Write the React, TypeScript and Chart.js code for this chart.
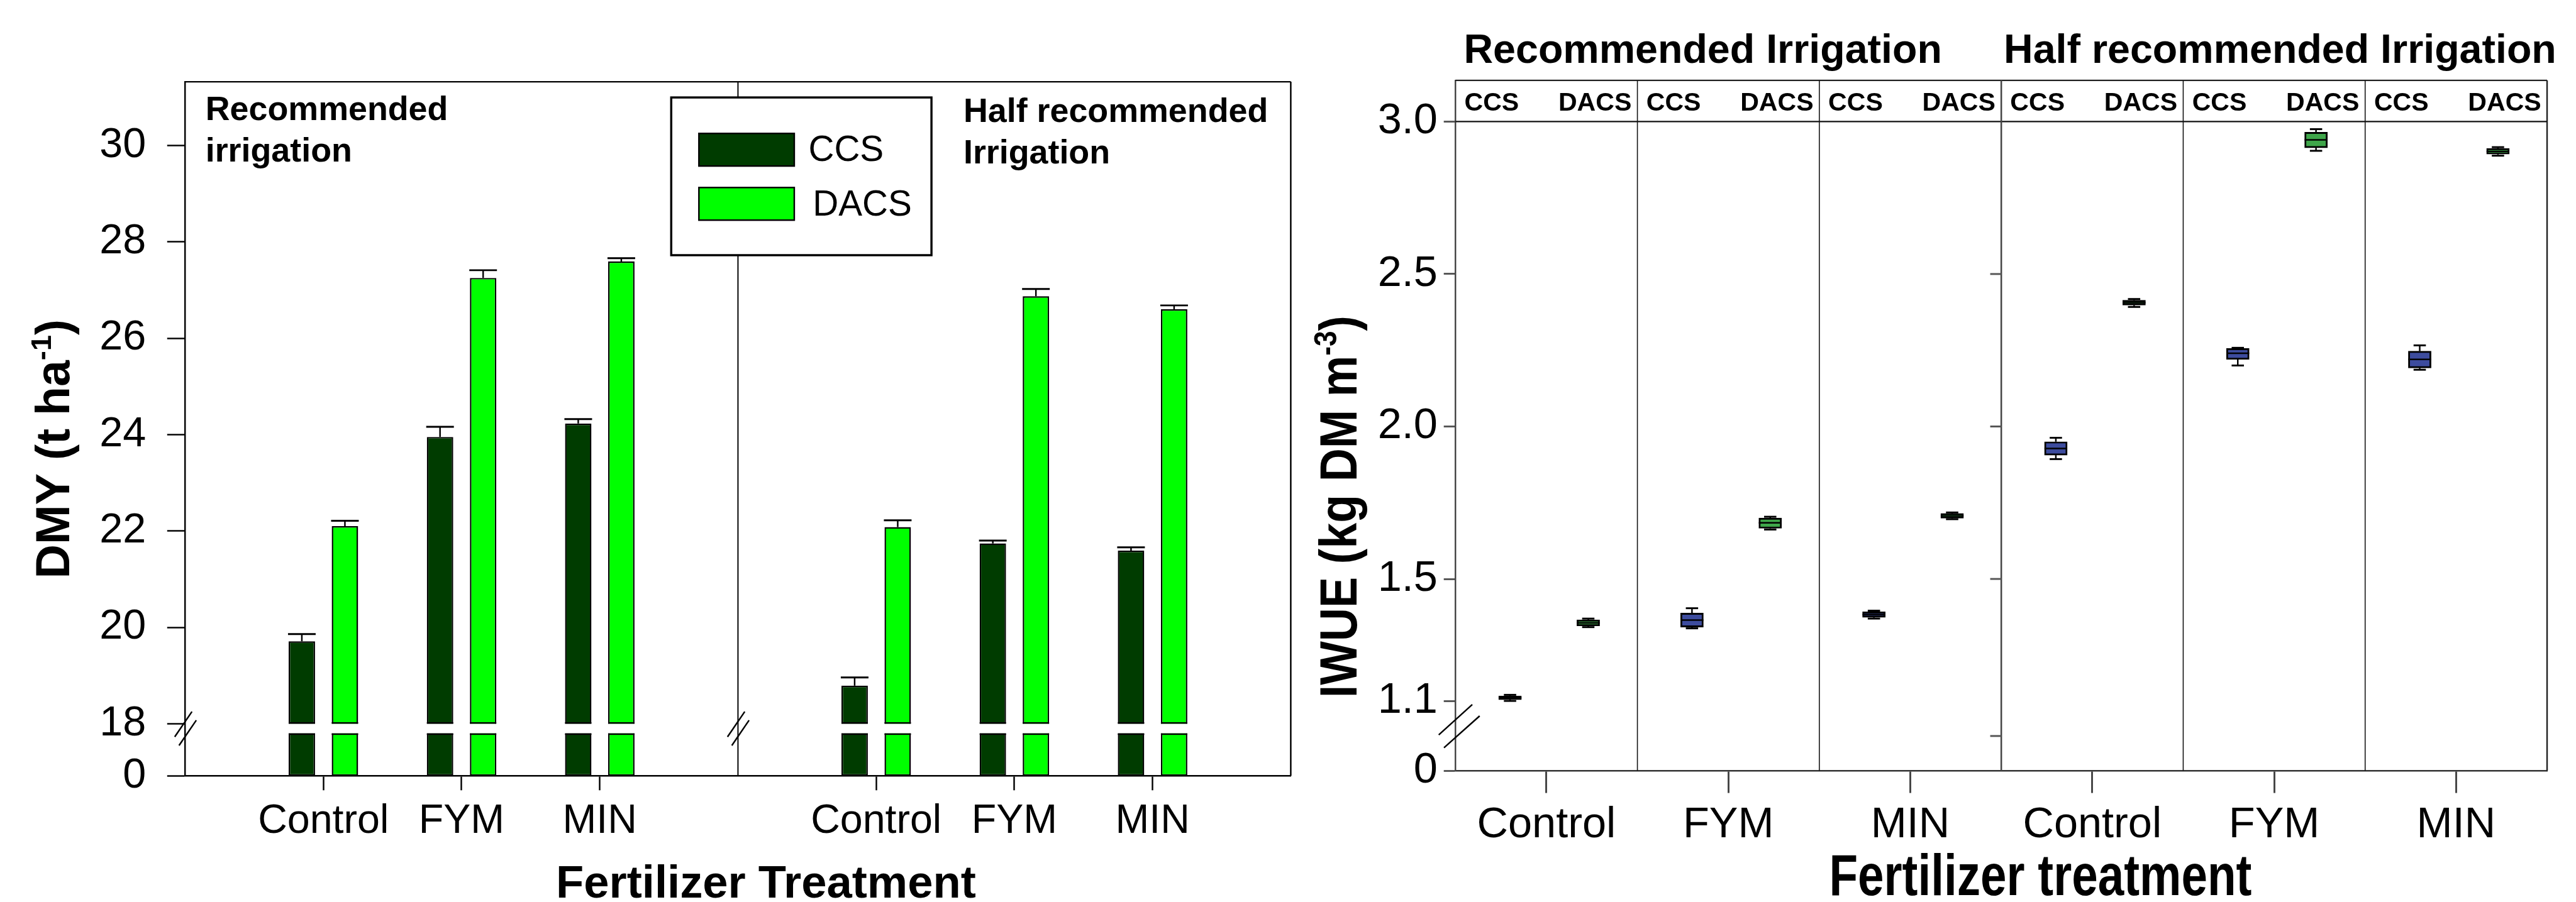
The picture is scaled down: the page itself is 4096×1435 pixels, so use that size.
import React, { useEffect, useRef } from 'react';
import { Chart, registerables } from 'chart.js';

Chart.register(...registerables);

const S = 4096 / 4187;
const W = 4096;
const H = 1435;
const SANS = "'Liberation Sans', Arial, Helvetica, sans-serif";
const px = (v: number) => v * S;

// ---------------- Left chart: DMY (t ha-1) ----------------
const dmyLabels = ['', 'Control', 'FYM', 'MIN', '', 'Control', 'FYM', 'MIN', ''];
const dmyCCS = [null, 19.71, 23.95, 24.23, null, 18.79, 21.74, 21.59, null];
const dmyCCSErr = [null, 0.15, 0.21, 0.09, null, 0.17, 0.06, 0.07, null];
const dmyDACS = [null, 22.1, 27.25, 27.59, null, 22.08, 26.87, 26.6, null];
const dmyDACSErr = [null, 0.11, 0.16, 0.07, null, 0.14, 0.15, 0.08, null];
const dmyTickValues = [18, 20, 22, 24, 26, 28, 30];
const dmyAxisZero = 16.92; // where the "0" label sits below the axis break
const dmyAxisTop = 31.32;
const dmyBreak = [17.8, 18];
const dmyPanelTitles = [
  ['Recommended', 'irrigation'],
  ['Half recommended', 'Irrigation'],
];
const dmySeries = ['CCS', 'DACS'];
const dmyColors = ['#003c00', '#00ff00'];

// ---------------- Right chart: IWUE (kg DM m-3) ----------------
const iwueCategories = ['Control', 'FYM', 'MIN', 'Control', 'FYM', 'MIN'];
// [lower whisker, Q1, median, Q3, upper whisker]
const iwueCCS = [
  [1.1, 1.104, 1.11, 1.116, 1.12],
  [1.338, 1.342, 1.365, 1.388, 1.404],
  [1.37, 1.374, 1.383, 1.392, 1.396],
  [1.893, 1.906, 1.928, 1.95, 1.963],
  [2.2, 2.22, 2.24, 2.256, 2.258],
  [2.186, 2.192, 2.22, 2.247, 2.266],
];
const iwueDACS = [
  [1.342, 1.346, 1.356, 1.366, 1.37],
  [1.662, 1.666, 1.684, 1.7, 1.704],
  [1.696, 1.699, 1.707, 1.715, 1.718],
  [2.392, 2.398, 2.406, 2.414, 2.418],
  [2.904, 2.914, 2.94, 2.965, 2.975],
  [2.888, 2.893, 2.902, 2.912, 2.916],
];
const iwueTickValues = [1.1, 1.5, 2.0, 2.5, 3.0];
const iwueAxisZero = 0.8707;
const iwueAxisTop = 3.135;
const iwueHeaderValue = 3.0;
const iwueHalfAxisStubs = [2.5, 2.0, 1.5, 0.985];
const iwueGroupTitles = ['Recommended Irrigation', 'Half recommended Irrigation'];
const iwueSeries = ['CCS', 'DACS'];
const iwueColors = ['#3d4c9e', '#3fa64a'];
const iwueOffsets = [-0.2, 0.23];

const Y_AXIS_W = 200;
const X_AXIS_H = 150;

function drawText(
  ctx: CanvasRenderingContext2D,
  str: string,
  x: number,
  y: number,
  size: number,
  opts: { bold?: boolean; align?: CanvasTextAlign; width?: number; color?: string } = {}
) {
  ctx.save();
  ctx.font = `${opts.bold ? 'bold ' : ''}${px(size)}px ${SANS}`;
  ctx.fillStyle = opts.color || '#000';
  ctx.textAlign = opts.align || 'left';
  ctx.textBaseline = 'alphabetic';
  if (opts.width) {
    const w = ctx.measureText(str).width;
    const k = px(opts.width) / w;
    ctx.translate(x, y);
    ctx.scale(k, 1);
    ctx.fillText(str, 0, 0);
  } else {
    ctx.fillText(str, x, y);
  }
  ctx.restore();
}

function drawRotatedTitle(
  ctx: CanvasRenderingContext2D,
  parts: { t: string; sup?: boolean }[],
  baseX: number,
  centerY: number,
  size: number,
  targetLen?: number
) {
  ctx.save();
  ctx.translate(px(baseX), px(centerY));
  ctx.rotate(-Math.PI / 2);
  const mainFont = `bold ${px(size)}px ${SANS}`;
  const supFont = `bold ${px(size * 0.6)}px ${SANS}`;
  const widths = parts.map((p) => {
    ctx.font = p.sup ? supFont : mainFont;
    return ctx.measureText(p.t).width;
  });
  const total = widths.reduce((a, b) => a + b, 0);
  const k = targetLen ? px(targetLen) / total : 1;
  ctx.scale(k, 1);
  ctx.fillStyle = '#000';
  ctx.textBaseline = 'alphabetic';
  ctx.textAlign = 'left';
  let xx = -total / 2;
  parts.forEach((p, i) => {
    ctx.font = p.sup ? supFont : mainFont;
    ctx.fillText(p.t, xx, p.sup ? -px(size * 0.38) : 0);
    xx += widths[i];
  });
  ctx.restore();
}

function seg(ctx: CanvasRenderingContext2D, x1: number, y1: number, x2: number, y2: number) {
  ctx.beginPath();
  ctx.moveTo(x1, y1);
  ctx.lineTo(x2, y2);
  ctx.stroke();
}

function breakMarks(ctx: CanvasRenderingContext2D, cx: number, cy: number, lines: number[][]) {
  ctx.save();
  ctx.strokeStyle = '#000';
  ctx.lineWidth = px(2.5);
  lines.forEach(([a, b, c, d]) => seg(ctx, cx + px(a), cy + px(b), cx + px(c), cy + px(d)));
  ctx.restore();
}

const dmyPlugin = {
  id: 'dmyDecor',
  afterDatasetsDraw(chart: any) {
    const { ctx, scales } = chart;
    const y = scales.y;
    const yHi = y.getPixelForValue(dmyBreak[1]);
    const yLo = y.getPixelForValue(dmyBreak[0]);
    const bw = px(2.5);
    chart.data.datasets.forEach((ds: any, di: number) => {
      const meta = chart.getDatasetMeta(di);
      const vals = di === 0 ? dmyCCS : dmyDACS;
      const errs = di === 0 ? dmyCCSErr : dmyDACSErr;
      meta.data.forEach((bar: any, i: number) => {
        const v = vals[i];
        if (v == null) return;
        const { x: bx, width } = bar.getProps(['x', 'width'], true);
        const l = bx - width / 2;
        ctx.save();
        ctx.fillStyle = '#fff';
        ctx.fillRect(l - 2, yHi, width + 4, yLo - yHi);
        ctx.fillStyle = '#000';
        ctx.fillRect(l, yHi - bw, width, bw);
        ctx.fillRect(l, yLo, width, bw);
        const yTop = y.getPixelForValue(v);
        const yErr = y.getPixelForValue(v + (errs[i] as number));
        ctx.strokeStyle = '#000';
        ctx.lineWidth = px(2.5);
        seg(ctx, bx, yTop, bx, yErr);
        ctx.lineWidth = px(3);
        seg(ctx, l - 1, yErr, l + width + 1, yErr);
        ctx.restore();
      });
    });
  },
  afterDraw(chart: any) {
    const { ctx, chartArea: a, scales } = chart;
    const x = scales.x;
    const y = scales.y;
    ctx.save();
    ctx.strokeStyle = '#000';
    ctx.lineWidth = px(2.5);
    seg(ctx, a.left, a.top, a.right, a.top);
    seg(ctx, a.right, a.top, a.right, a.bottom);
    // divider between the two irrigation panels
    const xd = x.getPixelForValue(4);
    ctx.lineWidth = px(2);
    seg(ctx, xd, a.top, xd, a.bottom);
    // break marks
    const cy = (y.getPixelForValue(dmyBreak[0]) + y.getPixelForValue(dmyBreak[1])) / 2;
    const marks = [
      [-17, 13.5, 11, -27.5],
      [-10, 27.5, 18, -13.5],
    ];
    breakMarks(ctx, a.left, cy, marks);
    breakMarks(ctx, xd, cy, marks);
    ctx.restore();

    // panel titles
    drawText(ctx, dmyPanelTitles[0][0], px(334), px(195), 55, { bold: true });
    drawText(ctx, dmyPanelTitles[0][1], px(334), px(262.5), 55, { bold: true });
    drawText(ctx, dmyPanelTitles[1][0], px(1566), px(198.7), 55, { bold: true });
    drawText(ctx, dmyPanelTitles[1][1], px(1566), px(265.6), 55, { bold: true });

    // legend
    ctx.save();
    ctx.fillStyle = '#fff';
    ctx.fillRect(px(1091), px(158.5), px(423), px(256.5));
    ctx.strokeStyle = '#000';
    ctx.lineWidth = px(3.5);
    ctx.strokeRect(px(1091), px(158.5), px(423), px(256.5));
    const swTop = [217, 305];
    const txtX = [1314, 1321];
    const txtBase = [262, 351];
    chart.data.datasets.forEach((ds: any, i: number) => {
      ctx.fillStyle = ds.backgroundColor;
      ctx.fillRect(px(1136), px(swTop[i]), px(155), px(53));
      ctx.lineWidth = px(2.5);
      ctx.strokeStyle = '#000';
      ctx.strokeRect(px(1136), px(swTop[i]), px(155), px(53));
      drawText(ctx, ds.label, px(txtX[i]), px(txtBase[i]), 58);
    });
    ctx.restore();

    // axis titles
    drawRotatedTitle(ctx, [{ t: 'DMY (t ha' }, { t: '-1', sup: true }, { t: ')' }], 112, 730, 77);
    drawText(ctx, 'Fertilizer Treatment', px(1245), px(1460), 74, { bold: true, align: 'center' });
  },
};

const iwuePlugin = {
  id: 'iwueDecor',
  afterDatasetsDraw(chart: any) {
    const { ctx, scales } = chart;
    const y = scales.y;
    chart.data.datasets.forEach((ds: any, di: number) => {
      const meta = chart.getDatasetMeta(di);
      const boxes = di === 0 ? iwueCCS : iwueDACS;
      meta.data.forEach((bar: any, i: number) => {
        const b = boxes[i];
        const { x: bx, width } = bar.getProps(['x', 'width'], true);
        const capW = px(20);
        ctx.save();
        ctx.strokeStyle = '#000';
        ctx.lineWidth = px(2.5);
        // whiskers
        seg(ctx, bx, y.getPixelForValue(b[3]), bx, y.getPixelForValue(b[4]));
        seg(ctx, bx, y.getPixelForValue(b[1]), bx, y.getPixelForValue(b[0]));
        ctx.lineWidth = px(3);
        seg(ctx, bx - capW / 2, y.getPixelForValue(b[4]), bx + capW / 2, y.getPixelForValue(b[4]));
        seg(ctx, bx - capW / 2, y.getPixelForValue(b[0]), bx + capW / 2, y.getPixelForValue(b[0]));
        // median
        ctx.lineWidth = px(2.5);
        seg(ctx, bx - width / 2, y.getPixelForValue(b[2]), bx + width / 2, y.getPixelForValue(b[2]));
        ctx.restore();
      });
    });
  },
  afterDraw(chart: any) {
    const { ctx, chartArea: a, scales } = chart;
    const x = scales.x;
    const y = scales.y;
    ctx.save();
    ctx.strokeStyle = '#222';
    ctx.lineWidth = px(2.5);
    seg(ctx, a.left, a.top, a.right, a.top);
    seg(ctx, a.right, a.top, a.right, a.bottom);
    const yh = y.getPixelForValue(iwueHeaderValue);
    ctx.lineWidth = px(2.2);
    ctx.strokeStyle = '#111';
    seg(ctx, a.left, yh, a.right, yh);
    for (let i = 1; i < iwueCategories.length; i++) {
      const xx = x.getPixelForValue(i);
      const mid = i === iwueCategories.length / 2;
      ctx.lineWidth = mid ? px(2.6) : px(1.6);
      ctx.strokeStyle = mid ? '#444' : '#111';
      seg(ctx, xx, a.top, xx, a.bottom);
    }
    // tick stubs of the second (half irrigation) panel axis
    const xm = x.getPixelForValue(iwueCategories.length / 2);
    ctx.strokeStyle = '#555';
    ctx.lineWidth = px(3);
    iwueHalfAxisStubs.forEach((v) => {
      const yy = y.getPixelForValue(v);
      seg(ctx, xm - px(18), yy, xm, yy);
    });
    // break marks on the y axis
    const y11 = y.getPixelForValue(iwueTickValues[0]);
    const y0 = y.getPixelForValue(iwueAxisZero);
    const cy = y11 + 0.36 * (y0 - y11);
    breakMarks(ctx, a.left, cy, [
      [-27.2, 14.3, 27.3, -35],
      [-18.7, 35.3, 39.3, -16.5],
    ]);
    ctx.restore();

    // header labels CCS / DACS in each panel
    for (let i = 0; i < iwueCategories.length; i++) {
      const l = x.getPixelForValue(i);
      const r = x.getPixelForValue(i + 1);
      drawText(ctx, chart.data.datasets[0].label, l + px(14.5), px(180), 42, { bold: true });
      drawText(ctx, chart.data.datasets[1].label, r - px(9.5), px(180), 42, { bold: true, align: 'right' });
    }
    // group titles
    drawText(ctx, iwueGroupTitles[0], a.left + px(13.5), px(102), 66, { bold: true });
    drawText(ctx, iwueGroupTitles[1], xm + px(4), px(102), 66, { bold: true });

    // axis titles
    drawRotatedTitle(ctx, [{ t: 'IWUE (kg DM m' }, { t: '-3', sup: true }, { t: ')' }], 2205, 824, 86, 622);
    drawText(ctx, 'Fertilizer treatment', px(2973), px(1456), 94, { bold: true, width: 687 });
  },
};

function dmyConfig(): any {
  const font = { family: SANS, size: px(68) };
  return {
    type: 'bar',
    data: {
      labels: dmyLabels,
      datasets: dmySeries.map((name, di) => ({
        label: name,
        data: (di === 0 ? dmyCCS : dmyDACS).map((v) => (v == null ? null : [dmyAxisZero, v])),
        backgroundColor: dmyColors[di],
        borderColor: '#000',
        borderWidth: px(2.5),
        borderSkipped: false,
        categoryPercentage: 0.6235,
        barPercentage: 0.613,
      })),
    },
    options: {
      responsive: false,
      maintainAspectRatio: false,
      animation: false,
      devicePixelRatio: 1,
      layout: {
        autoPadding: false,
        padding: {
          left: px(301) - Y_AXIS_W,
          top: px(133),
          right: W - px(2098),
          bottom: H - px(1261.6) - X_AXIS_H,
        },
      },
      plugins: { legend: { display: false }, tooltip: { enabled: false }, title: { display: false } },
      scales: {
        x: {
          type: 'category',
          offset: false,
          grid: {
            display: true,
            offset: false,
            drawOnChartArea: false,
            drawTicks: true,
            tickLength: px(23.6),
            tickWidth: px(2.5),
            tickColor: (c: any) => (dmyLabels[c.index] ? '#000' : 'rgba(0,0,0,0)'),
          },
          border: { display: true, color: '#000', width: px(2.5) },
          ticks: {
            autoSkip: false,
            maxRotation: 0,
            minRotation: 0,
            font: { family: SANS, size: px(66) },
            color: '#000',
            padding: 11.6,
          },
          afterFit: (s: any) => {
            s.height = X_AXIS_H;
          },
        },
        y: {
          type: 'linear',
          min: dmyAxisZero,
          max: dmyAxisTop,
          beginAtZero: false,
          afterBuildTicks: (s: any) => {
            s.ticks = [dmyAxisZero, ...dmyTickValues].map((value) => ({ value }));
          },
          ticks: {
            callback: (v: number) => (v === dmyAxisZero ? '0' : String(v)),
            font,
            color: '#000',
            padding: px(34.2),
          },
          grid: {
            display: true,
            drawOnChartArea: false,
            drawTicks: true,
            tickLength: px(29.3),
            tickWidth: px(2.5),
            tickColor: '#000',
          },
          border: { display: true, color: '#000', width: px(2.5) },
          afterFit: (s: any) => {
            s.width = Y_AXIS_W;
          },
        },
      },
    },
    plugins: [dmyPlugin],
  };
}

function iwueConfig(): any {
  const font = { family: SANS, size: px(70) };
  return {
    type: 'bar',
    data: {
      datasets: iwueSeries.map((name, di) => ({
        label: name,
        data: (di === 0 ? iwueCCS : iwueDACS).map((b, i) => ({ x: i + 0.5 + iwueOffsets[di], y: [b[1], b[3]] })),
        backgroundColor: iwueColors[di],
        borderColor: '#000',
        borderWidth: px(3),
        borderSkipped: false,
        grouped: false,
        barThickness: px(37),
      })),
    },
    options: {
      responsive: false,
      maintainAspectRatio: false,
      animation: false,
      devicePixelRatio: 1,
      layout: {
        autoPadding: false,
        padding: {
          left: px(2365.7) - Y_AXIS_W,
          top: px(130.7),
          right: W - px(4140),
          bottom: H - px(1253.6) - X_AXIS_H,
        },
      },
      plugins: { legend: { display: false }, tooltip: { enabled: false }, title: { display: false } },
      scales: {
        x: {
          type: 'linear',
          min: 0,
          max: iwueCategories.length,
          offset: false,
          afterBuildTicks: (s: any) => {
            s.ticks = iwueCategories.map((_, i) => ({ value: i + 0.5 }));
          },
          grid: {
            display: true,
            offset: false,
            drawOnChartArea: false,
            drawTicks: true,
            tickLength: px(36),
            tickWidth: px(3),
            tickColor: '#444',
          },
          border: { display: true, color: '#333', width: px(2.5) },
          ticks: {
            autoSkip: false,
            maxRotation: 0,
            minRotation: 0,
            callback: (v: number) => iwueCategories[Math.round(v - 0.5)],
            font,
            color: '#000',
            padding: 10.2,
          },
          afterFit: (s: any) => {
            s.height = X_AXIS_H;
          },
        },
        y: {
          type: 'linear',
          min: iwueAxisZero,
          max: iwueAxisTop,
          beginAtZero: false,
          afterBuildTicks: (s: any) => {
            s.ticks = [iwueAxisZero, ...iwueTickValues].map((value) => ({ value }));
          },
          ticks: {
            callback: (v: number) => (v === iwueAxisZero ? '0' : v.toFixed(1)),
            font,
            color: '#000',
            padding: px(10),
          },
          grid: {
            display: true,
            drawOnChartArea: false,
            drawTicks: true,
            tickLength: px(19),
            tickWidth: px(3),
            tickColor: '#555',
          },
          border: { display: true, color: '#444', width: px(2.5) },
          afterFit: (s: any) => {
            s.width = Y_AXIS_W;
          },
        },
      },
    },
    plugins: [iwuePlugin],
  };
}

export default function App() {
  const leftRef = useRef<HTMLCanvasElement>(null);
  const rightRef = useRef<HTMLCanvasElement>(null);
  useEffect(() => {
    document.body.style.margin = '0';
    Chart.defaults.font.family = SANS;
    Chart.defaults.color = '#000';
    const c1 = new Chart(leftRef.current as HTMLCanvasElement, dmyConfig());
    const c2 = new Chart(rightRef.current as HTMLCanvasElement, iwueConfig());
    return () => {
      c1.destroy();
      c2.destroy();
    };
  }, []);
  const cs: React.CSSProperties = { position: 'absolute', left: 0, top: 0, width: W, height: H };
  return (
    <div style={{ position: 'absolute', left: 0, top: 0, width: W, height: H, background: '#fff', overflow: 'hidden' }}>
      <canvas ref={leftRef} width={W} height={H} style={cs} />
      <canvas ref={rightRef} width={W} height={H} style={cs} />
    </div>
  );
}
